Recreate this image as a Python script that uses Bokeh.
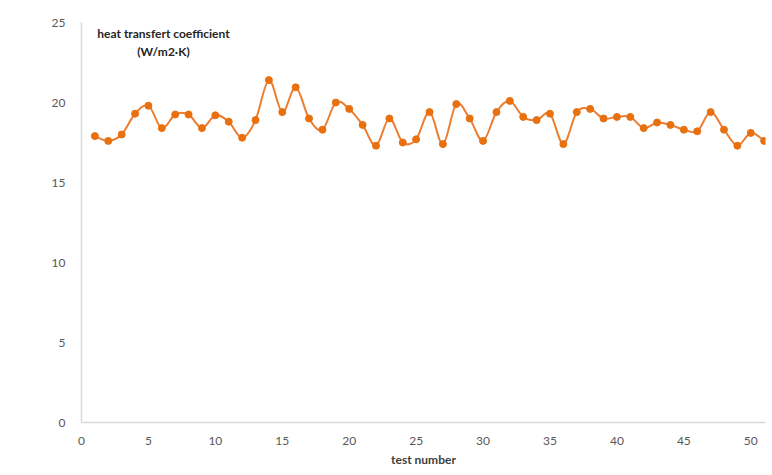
import numpy as np
from bokeh.plotting import figure
from bokeh.models import Range1d, FixedTicker, Label, ColumnDataSource
from bokeh.embed import file_html
from bokeh.resources import INLINE

test_number = list(range(1, 52))
htc = [17.9, 17.6, 18.0, 19.3, 19.8, 18.4, 19.25, 19.25, 18.4, 19.2,
       18.8, 17.8, 18.9, 21.4, 19.4, 20.95, 19.0, 18.3, 20.0, 19.6,
       18.6, 17.3, 19.0, 17.5, 17.7, 19.4, 17.4, 19.9, 19.0, 17.6,
       19.4, 20.1, 19.1, 18.9, 19.3, 17.4, 19.4, 19.6, 19.0, 19.1,
       19.1, 18.4, 18.75, 18.6, 18.3, 18.2, 19.4, 18.3, 17.3, 18.1,
       17.6]
x_ticks = [0, 5, 10, 15, 20, 25, 30, 35, 40, 45, 50]
y_ticks = [0, 5, 10, 15, 20, 25]

ORANGE = "#ED7D31"
FONT = "Lato"

p = figure(width=768, height=469, output_backend="svg", toolbar_location=None,
           x_range=Range1d(0, 51.1), y_range=Range1d(0, 25),
           min_border_left=81, min_border_right=3, min_border_top=22, min_border_bottom=10)
p.outline_line_color = None
p.xgrid.grid_line_color = None
p.ygrid.grid_line_color = None
p.background_fill_color = "white"
p.border_fill_color = "white"

for ax in (p.xaxis, p.yaxis):
    ax.axis_line_color = "#d9d9d9"
    ax.axis_line_width = 1.5
    ax.major_tick_line_color = None
    ax.minor_tick_line_color = None
    ax.major_label_text_color = "#595959"
    ax.major_label_text_font = FONT
    ax.major_label_text_font_size = "12px"

p.xaxis.ticker = FixedTicker(ticks=x_ticks)
p.yaxis.ticker = FixedTicker(ticks=y_ticks)
p.xaxis.major_label_standoff = 8
p.yaxis.major_label_standoff = 10
p.xaxis.axis_label = "test number"
p.xaxis.axis_label_text_font = FONT
p.xaxis.axis_label_text_font_style = "bold"
p.xaxis.axis_label_text_font_size = "12px"
p.xaxis.axis_label_text_color = "#404040"
p.xaxis.axis_label_standoff = 4

# smoothed line (Catmull-Rom -> cubic Bezier) computed from the data
xs = np.array(test_number, dtype=float)
ys = np.array(htc, dtype=float)
xp = np.concatenate([[xs[0]], xs, [xs[-1]]])
yp = np.concatenate([[ys[0]], ys, [ys[-1]]])
n = len(xs)
x0 = xs[:-1]; y0 = ys[:-1]; x1 = xs[1:]; y1 = ys[1:]
cx0 = x0 + (xp[2:n + 1] - xp[0:n - 1]) / 6.0
cy0 = y0 + (yp[2:n + 1] - yp[0:n - 1]) / 6.0
cx1 = x1 - (xp[3:n + 2] - xp[1:n]) / 6.0
cy1 = y1 - (yp[3:n + 2] - yp[1:n]) / 6.0
bsrc = ColumnDataSource(dict(x0=x0, y0=y0, x1=x1, y1=y1, cx0=cx0, cy0=cy0, cx1=cx1, cy1=cy1))
p.bezier(x0="x0", y0="y0", x1="x1", y1="y1", cx0="cx0", cy0="cy0", cx1="cx1", cy1="cy1",
         source=bsrc, line_color=ORANGE, line_width=2)
p.scatter(test_number, htc, marker="circle", size=7, fill_color="#E8700F", line_color="#E8700F")

title = Label(x=82, y=364, x_units="screen", y_units="screen",
              text="heat transfert coefficient\n(W/m2·K)", text_align="center",
              text_baseline="bottom", text_font=FONT, text_font_style="bold",
              text_font_size="12px", text_color="#262626", text_line_height=1.2)
p.add_layout(title)

open("out.html", "w").write(file_html(p, INLINE))
